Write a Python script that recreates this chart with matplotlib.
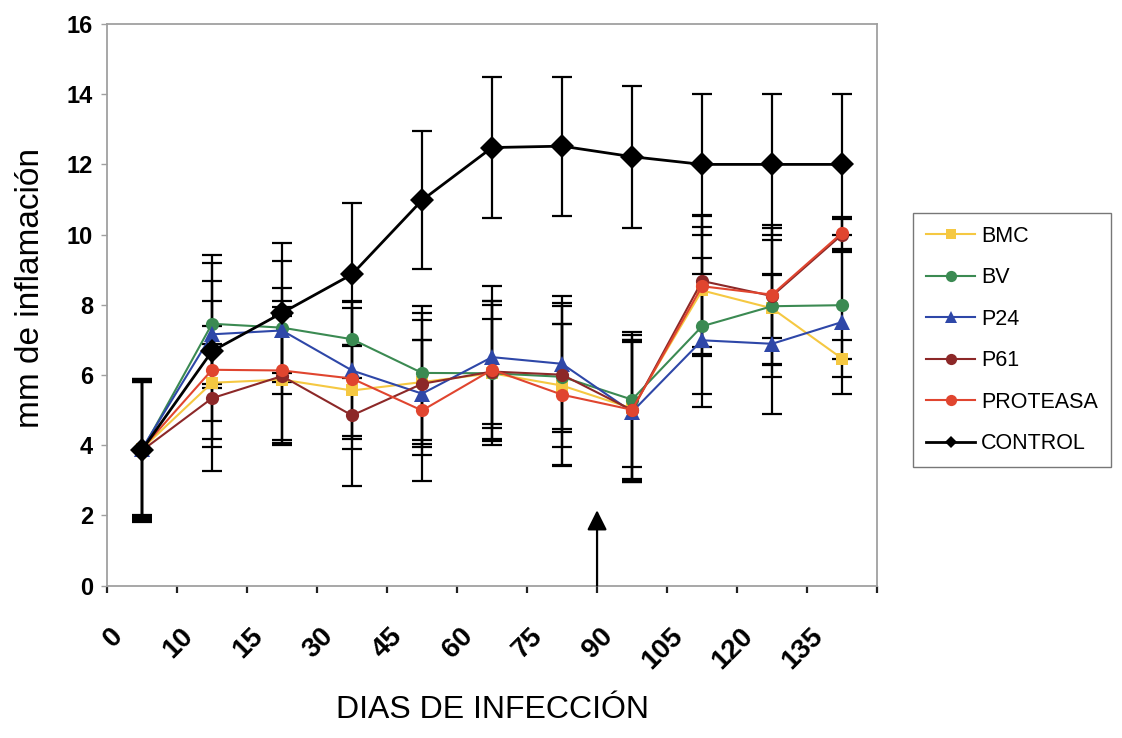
import matplotlib
import matplotlib.pyplot as plt
import matplotlib.transforms as mtransforms
from matplotlib.lines import Line2D
import numpy as np

matplotlib.use("Agg")

NARROW = ["Liberation Sans Narrow", "Liberation Sans", "DejaVu Sans"]
REGULAR = ["Liberation Sans", "DejaVu Sans"]

DAYS = ["0", "10", "15", "30", "45", "60", "75", "90", "105", "120", "135"]

BMC = [3.9, 5.78, 5.87, 5.56, 5.8, 6.05, 5.7, 5.05, 8.41, 7.9, 6.47]
BV = [3.85, 7.46, 7.35, 7.02, 6.06, 6.05, 5.95, 5.3, 7.39, 7.96, 7.99]
P24 = [3.9, 7.16, 7.27, 6.13, 5.47, 6.51, 6.32, 4.95, 6.99, 6.89, 7.51]
P61 = [3.85, 5.34, 5.97, 4.85, 5.75, 6.1, 6.01, 5.0, 8.68, 8.25, 10.0]
PROTEASA = [3.9, 6.15, 6.13, 5.9, 4.99, 6.15, 5.44, 5.01, 8.53, 8.29, 10.05]
CONTROL = [3.87, 6.68, 7.77, 8.87, 10.98, 12.48, 12.52, 12.22, 12.0, 12.0, 12.0]

BMC_SD = [2.0, 1.1, 1.8, 1.3, 1.76, 2.05, 2.28, 2.1, 1.8, 1.96, 0.53]
BV_SD = [1.95, 1.72, 1.89, 1.1, 1.91, 1.94, 1.49, 1.93, 1.93, 0.9, 1.52]
P24_SD = [1.9, 1.52, 1.2, 1.95, 1.52, 2.03, 1.93, 2.0, 1.9, 2.0, 2.04]
P61_SD = [2.05, 2.06, 1.97, 2.0, 2.02, 1.5, 2.05, 2.0, 1.87, 1.95, 0.45]
PROTEASA_SD = [1.95, 1.96, 1.98, 2.0, 2.0, 1.96, 2.0, 1.98, 2.0, 1.98, 0.45]
CONTROL_SD = [2.0, 2.73, 1.98, 2.03, 1.97, 2.0, 1.98, 2.02, 2.0, 2.0, 2.0]

# arrow marks the day between 75 and 90 (category boundary), height in mm
ARROW_X = 6.5
ARROW_TOP = 2.15

SERIES = [
    ("BMC", BMC, BMC_SD, "#f5c842", "s", 8.5, 1.5),
    ("BV", BV, BV_SD, "#3b8a52", "o", 9.5, 1.5),
    ("P24", P24, P24_SD, "#2e47a8", "^", 11, 1.5),
    ("P61", P61, P61_SD, "#8c2828", "o", 9.5, 1.5),
    ("PROTEASA", PROTEASA, PROTEASA_SD, "#e0452f", "o", 9.5, 1.5),
    ("CONTROL", CONTROL, CONTROL_SD, "#000000", "D", 12, 2.0),
]

SPINE = "#a0a0a0"

fig = plt.figure(figsize=(11.22, 7.38), dpi=100)
ax = fig.add_axes([0.0954, 0.2064, 0.6863, 0.7611])

x = np.arange(len(DAYS))
for name, vals, sd, color, marker, ms, lw in SERIES:
    ax.errorbar(x, vals, yerr=sd, fmt="none", ecolor="black",
                elinewidth=1.6, capsize=7, capthick=1.6, zorder=2)
for name, vals, sd, color, marker, ms, lw in SERIES:
    ax.plot(x, vals, color=color, lw=lw, marker=marker, markersize=ms,
            markeredgewidth=0, zorder=3)

ax.annotate("", xy=(ARROW_X, ARROW_TOP), xytext=(ARROW_X, 0),
            arrowprops=dict(arrowstyle="-|>,head_length=0.6,head_width=0.3",
                            mutation_scale=20, lw=1.6, color="black",
                            shrinkA=0, shrinkB=0), zorder=4)

ax.set_xlim(-0.5, len(DAYS) - 0.5)
ax.set_ylim(0, 16)
ax.set_yticks(np.arange(0, 17, 2))
ax.set_xticks(x)
ax.set_xticks(np.arange(-0.5, len(DAYS), 1.0), minor=True)

for s in ax.spines.values():
    s.set_color(SPINE)
    s.set_linewidth(1.3)

ax.tick_params(axis="y", direction="out", length=4, width=1, color=SPINE, pad=6)
ax.tick_params(axis="x", which="major", length=0, pad=27)
ax.tick_params(axis="x", which="minor", direction="out", length=5, width=1.6,
               color="#222222")

for lab in ax.get_yticklabels():
    lab.set_fontfamily(NARROW)
    lab.set_fontsize(17)
    lab.set_fontweight("bold")

ax.set_xticklabels(DAYS, rotation=45, ha="right", va="top")
shift = mtransforms.ScaledTranslation(-0.14, 0, fig.dpi_scale_trans)
for lab in ax.get_xticklabels():
    lab.set_fontfamily(NARROW)
    lab.set_fontsize(20)
    lab.set_fontweight("bold")
    lab.set_transform(lab.get_transform() + shift)

ax.set_xlabel("DIAS DE INFECCIÓN", fontsize=23, family=NARROW)
ax.xaxis.set_label_coords(0.5, -0.195)
ax.set_ylabel("mm de inflamación", fontsize=24, family=REGULAR, va="center")
ax.yaxis.set_label_coords(-0.1, 0.53)

handles = [
    Line2D([], [], color=color, lw=lw, marker=marker,
           markersize=(6 if marker == "D" else ms * 0.85), markeredgewidth=0)
    for name, vals, sd, color, marker, ms, lw in SERIES
]
leg = fig.legend(handles, [s[0] for s in SERIES], loc="upper left",
                 bbox_to_anchor=(0.8137, 0.7114), frameon=True, fancybox=False,
                 prop={"family": NARROW, "size": 15.5}, handlelength=2.3,
                 labelspacing=0.95, borderpad=0.6, handletextpad=0.25,
                 borderaxespad=0)
leg.get_frame().set_edgecolor("#555555")
leg.get_frame().set_linewidth(1.0)

fig.savefig("out.png", dpi=100, facecolor="white")
